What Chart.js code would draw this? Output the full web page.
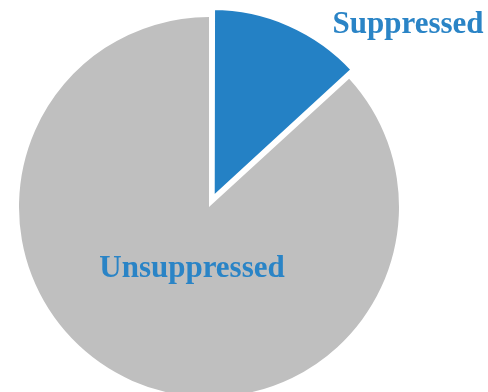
<!DOCTYPE html>
<html lang="en">
<head>
  <meta charset="UTF-8">
  <title>Suppressed vs Unsuppressed</title>
  <script src="https://cdn.jsdelivr.net/npm/chart.js"></script>
  <style>
    body {
      margin: 0;
      padding: 0;
      background-color: white;
    }

    .chart-box {
      width: 488px;
      height: 392px;
    }
  </style>
</head>
<body>
  <div class="chart-box">
    <canvas id="pieChart" width="488" height="392"></canvas>
  </div>

  <script>
    const categories = ['Suppressed', 'Unsuppressed'];
    const shares = [13.2, 86.8];
    const sliceColors = ['#2481c5', '#bfbfbf'];
    // only the small slice is pulled out of the pie
    const sliceOffsets = [32, 0];
    // white edge trims the pulled slice a little
    const sliceBorders = [5, 0];

    // where each slice name is written (center x, baseline y)
    const labelSpots = [
      { x: 408, y: 33 },
      { x: 192, y: 277 }
    ];

    const sliceLabels = {
      id: 'sliceLabels',
      afterDatasetsDraw(chart) {
        const c = chart.ctx;
        c.save();
        c.font = 'bold 31px "Liberation Serif", serif';
        c.fillStyle = '#2a84c6';
        c.textAlign = 'center';
        c.textBaseline = 'alphabetic';
        categories.forEach((name, i) => {
          c.fillText(name, labelSpots[i].x, labelSpots[i].y);
        });
        c.restore();
      }
    };

    const ctx = document.getElementById('pieChart').getContext('2d');
    new Chart(ctx, {
      type: 'pie',
      data: {
        labels: categories,
        datasets: [{
          data: shares,
          backgroundColor: sliceColors,
          borderColor: '#ffffff',
          borderWidth: sliceBorders,
          borderJoinStyle: 'miter',
          offset: sliceOffsets,
          clip: false
        }]
      },
      options: {
        responsive: false,
        animation: false,
        radius: 190,
        layout: {
          padding: { left: 0, right: 70, top: 22, bottom: 0 }
        },
        plugins: {
          legend: { display: false },
          tooltip: { enabled: false }
        }
      },
      plugins: [sliceLabels]
    });
  </script>
</body>
</html>
